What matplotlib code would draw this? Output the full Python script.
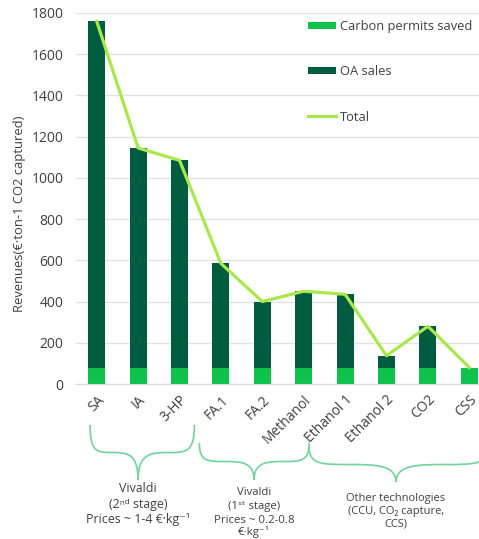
import numpy as np
import matplotlib.pyplot as plt
from matplotlib.path import Path
from matplotlib.patches import PathPatch

plt.rcParams['font.family'] = ['Open Sans', 'DejaVu Sans']

# Data
categories = ["SA", "IA", "3-HP", "FA.1", "FA.2", "Methanol",
              "Ethanol 1", "Ethanol 2", "CO2", "CSS"]
carbon_permits = [80, 80, 80, 80, 80, 80, 80, 80, 80, 80]
oa_sales = [1680, 1065, 1005, 505, 320, 370, 355, 57, 200, 0]
total = [c + o for c, o in zip(carbon_permits, oa_sales)]
y_ticks = [0, 200, 400, 600, 800, 1000, 1200, 1400, 1600, 1800]

c_carbon = '#0fc24c'
c_oa = '#005c3e'
c_total = '#a8e84c'
c_brace = '#6fd39a'
c_text = '#404040'

fig = plt.figure(figsize=(4.79, 5.39), dpi=100)
ax = fig.add_axes([76 / 479, 155 / 539, 414 / 479, 371 / 539])

x = np.arange(len(categories))
b1 = ax.bar(x, carbon_permits, width=0.41, color=c_carbon, label='Carbon permits saved', zorder=2)
b2 = ax.bar(x, oa_sales, width=0.41, bottom=carbon_permits, color=c_oa, label='OA sales', zorder=2)
l1, = ax.plot(x, total, color=c_total, linewidth=2.3, label='Total', zorder=3)

ax.set_xlim(-0.5, len(categories) - 0.5)
ax.set_ylim(0, 1800)
ax.set_yticks(y_ticks)
ax.yaxis.grid(True, color='#e2e2e2', linewidth=1, zorder=0)
ax.set_axisbelow(True)
for s in ['top', 'right', 'left']:
    ax.spines[s].set_visible(False)
ax.spines['bottom'].set_color('#d9d9d9')
ax.tick_params(axis='both', length=0, labelsize=10, colors=c_text)
ax.tick_params(axis='y', pad=9)
ax.tick_params(axis='x', pad=6)
ax.set_xticks(x)
ax.set_xticklabels(categories, rotation=45, ha='right', rotation_mode='anchor')

ax.set_ylabel('Revenues(€·ton-1 CO2 captured)', fontsize=9.4, color=c_text)
ax.yaxis.set_label_coords(-0.12, 0.458)

fig.legend([b1, b2, l1], ['Carbon permits saved', 'OA sales', 'Total'],
           loc='upper left', bbox_to_anchor=(0.643, 0.963), frameon=False,
           fontsize=9.3, labelspacing=2.5, handlelength=2.2, handleheight=0.5,
           handletextpad=0.25, borderpad=0, borderaxespad=0, labelcolor=c_text)


def px_y(p):
    # pixel row -> axes fraction
    return (384 - p) / 371


def brace(x0, x1, xm, ytop, ytip):
    ymid = ytop + 0.5 * (ytip - ytop)
    wl = xm - x0
    wr = x1 - xm
    verts = [
        (x0, ytop), (x0, ymid), (x0 + 0.15 * wl, ymid), (x0 + 0.45 * wl, ymid),
        (xm - 0.25 * wl, ymid), (xm, ymid), (xm, ytip),
        (xm, ymid), (xm + 0.25 * wr, ymid), (x1 - 0.45 * wr, ymid),
        (x1 - 0.15 * wr, ymid), (x1, ymid), (x1, ytop),
    ]
    codes = [Path.MOVETO] + [Path.CURVE4] * 12
    patch = PathPatch(Path(verts, codes), fill=False, edgecolor=c_brace,
                      linewidth=1.2, transform=ax.get_xaxis_transform(),
                      clip_on=False)
    ax.add_patch(patch)


brace(-0.16, 2.36, 1.0, px_y(425), px_y(480))
brace(2.48, 5.13, 3.80, px_y(443), px_y(480))
brace(5.13, 9.45, 7.23, px_y(447), px_y(482))

tr = ax.get_xaxis_transform()


def label_lines(xc, rows, lines, size):
    for r, t in zip(rows, lines):
        ax.text(xc, px_y(r), t, transform=tr, ha='center', va='baseline',
                fontsize=size, color=c_text, clip_on=False)


# rows are baselines in pixels
label_lines(1.0, [492, 508, 523],
            ['Vivaldi', '(2ⁿᵈ stage)', 'Prices ~ 1-4 €·kg⁻¹'], 8.9)
label_lines(3.80, [495, 509, 523, 535],
            ['Vivaldi', '(1ˢᵗ stage)', 'Prices ~ 0.2-0.8', '€·kg⁻¹'], 8.2)
label_lines(7.23, [501, 514, 527],
            ['Other technologies', '(CCU, CO₂ capture,', 'CCS)'], 8.0)

fig.savefig('out.png', dpi=100)
